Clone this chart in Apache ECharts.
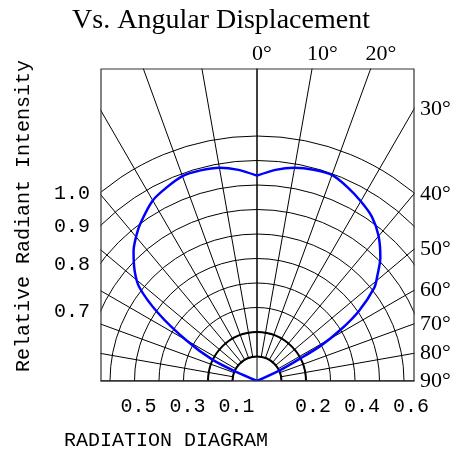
<!DOCTYPE html>
<html>
<head>
<meta charset="utf-8">
<script src="https://cdn.jsdelivr.net/npm/echarts@6/dist/echarts.min.js"></script>
<style>
  html, body { margin: 0; padding: 0; background: #fff; }
  #chart { width: 462px; height: 457px; }
</style>
</head>
<body>
<div id="chart"></div>
<script>
// radiation pattern (angle in degrees, relative intensity)
const angles = [-68, -66.5, -64.5, -60, -55.5, -51.5, -48, -43.5, -40, -36.5, -30, -25, -20, -15, -10, -5,
  0, 5, 10, 15, 20, 25, 30, 35, 40, 45, 49, 51.5, 55.5, 58.5, 61, 62.5, 65, 68];
const intensity = [0, 0.09, 0.20, 0.335, 0.49, 0.613, 0.672, 0.732, 0.768, 0.80, 0.851, 0.872, 0.89, 0.89, 0.884, 0.865,
  0.838, 0.865, 0.884, 0.893, 0.895, 0.873, 0.847, 0.818, 0.772, 0.712, 0.650, 0.612, 0.505, 0.40, 0.30, 0.20, 0.10, 0];

// tick labels
const angleTicks = [0, 10, 20, 30, 40, 50, 60, 70, 80, 90];
const leftRings = [1.0, 0.9, 0.8, 0.7];
const bottomLeftTicks = [0.5, 0.3, 0.1];
const bottomRightTicks = [0.2, 0.4, 0.6];

const title = 'Vs. Angular Displacement';
const yTitle = 'Relative Radiant Intensity';
const xTitle = 'RADIATION DIAGRAM';

// layout
const cx = 257, cy = 381;
const unit = 245;           // px per 1.0 intensity
const rMax = 1.5;
const box = {left: 101, top: 69, right: 414, bottom: 381};

const chart = echarts.init(document.getElementById('chart'));

// ring colours: visible up to 1.0, hidden beyond
const ringColors = [];
for (let i = 0; i <= 15; i++) ringColors.push(i <= 10 ? '#000' : 'rgba(0,0,0,0)');

const hiddenAngle = {
  min: -90, max: 90, startAngle: 180, endAngle: 0,
  axisLine: {show: false}, axisTick: {show: false}, axisLabel: {show: false}, splitLine: {show: false}
};

// two halves so the cusp at 0° stays sharp
const points = angles.map((a, i) => [intensity[i], a]);
const leftHalf = points.filter(p => p[1] <= 0);
const rightHalf = points.filter(p => p[1] >= 0);
const heart = data => ({
  type: 'line',
  coordinateSystem: 'polar',
  polarIndex: 0,
  data: data,
  showSymbol: false,
  smooth: 0.25,
  lineStyle: {color: '#0000ff', width: 2.5},
  z: 10
});

chart.setOption({
  animation: false,
  polar: [
    {center: [cx, cy], radius: [0, rMax * unit]},
    {center: [cx, cy], radius: [0.1 * unit, rMax * unit]},
    {center: [cx, cy], radius: [0, 0.2 * unit]}
  ],
  angleAxis: [
    Object.assign({}, hiddenAngle, {
      polarIndex: 0, type: 'value', interval: 90,
      splitLine: {show: true, lineStyle: {color: '#000', width: 1}}
    }),
    Object.assign({}, hiddenAngle, {
      polarIndex: 1, type: 'value', interval: 10,
      splitLine: {show: true, lineStyle: {color: '#000', width: 1}}
    }),
    Object.assign({}, hiddenAngle, {polarIndex: 2, type: 'value'})
  ],
  radiusAxis: [
    {
      polarIndex: 0, type: 'value', min: 0, max: rMax, interval: 0.1,
      axisLine: {show: false}, axisTick: {show: false}, axisLabel: {show: false},
      splitLine: {show: true, lineStyle: {color: ringColors, width: 1}}
    },
    {
      polarIndex: 1, type: 'value', min: 0.1, max: rMax,
      axisLine: {show: false}, axisTick: {show: false}, axisLabel: {show: false}, splitLine: {show: false}
    },
    {
      polarIndex: 2, type: 'value', min: 0, max: 0.2, interval: 0.1,
      axisLine: {show: false}, axisTick: {show: false}, axisLabel: {show: false},
      splitLine: {show: true, lineStyle: {color: '#000', width: 2}}
    }
  ],
  series: [heart(leftHalf), heart(rightHalf)]
});

// labels and masks placed from the polar scale
const numFont = '22px "Liberation Serif"';
const monoFont = '20px "Liberation Mono"';
const graphics = [];
const white = {fill: '#fff'};
graphics.push({type: 'rect', z: 50, shape: {x: 0, y: 0, width: box.left - 0.5, height: 457}, style: white});
graphics.push({type: 'rect', z: 50, shape: {x: box.right + 0.5, y: 0, width: 100, height: 457}, style: white});
graphics.push({type: 'rect', z: 50, shape: {x: 0, y: 0, width: 462, height: box.top - 0.5}, style: white});
graphics.push({type: 'rect', z: 50, shape: {x: 0, y: box.bottom + 0.5, width: 462, height: 100}, style: white});
graphics.push({type: 'rect', z: 55, shape: {x: box.left, y: box.top, width: box.right - box.left, height: box.bottom - box.top},
  style: {fill: 'none', stroke: '#333', lineWidth: 1.2}});

const text = (t, x, y, font, align, vAlign, extra) => Object.assign({
  type: 'text', z: 60, x: x, y: y,
  style: {text: t, font: font, fill: '#000', align: align, verticalAlign: vAlign}
}, extra || {});

angleTicks.forEach(a => {
  const p = chart.convertToPixel({polarIndex: 0}, [1, a]);
  const dx = p[0] - cx, dy = p[1] - cy;
  const tTop = dy < 0 ? (box.top - cy) / dy : Infinity;
  const tRight = dx > 0 ? (box.right - cx) / dx : Infinity;
  if (cx + dx * tTop <= box.right) {
    graphics.push(text(a + '°', cx + dx * tTop - 5, 54, numFont, 'left', 'middle'));
  } else {
    graphics.push(text(a + '°', box.right + 6, cy + dy * tRight, numFont, 'left', 'middle'));
  }
});

leftRings.forEach(v => {
  const p = chart.convertToPixel({polarIndex: 0}, [v, -90]);
  const r = cx - p[0];
  const half = cx - box.left;
  const y = cy - Math.sqrt(r * r - half * half);
  graphics.push(text(v.toFixed(1), 90, y + 2, monoFont, 'right', 'middle'));
});

bottomLeftTicks.forEach(v => {
  const p = chart.convertToPixel({polarIndex: 0}, [v, -90]);
  graphics.push(text(v.toFixed(1), p[0] + 4, 407, monoFont, 'center', 'middle'));
});
bottomRightTicks.forEach(v => {
  const p = chart.convertToPixel({polarIndex: 0}, [v, 90]);
  graphics.push(text(v.toFixed(1), p[0] + 7, 407, monoFont, 'center', 'middle'));
});

graphics.push(text(title, 221, 21, '28px "Liberation Serif"', 'center', 'middle'));
graphics.push(text(xTitle, 166, 441, monoFont, 'center', 'middle'));
graphics.push(text(yTitle, 24, 216, monoFont, 'center', 'middle', {rotation: Math.PI / 2}));

chart.setOption({graphic: {elements: graphics}});
</script>
</body>
</html>
